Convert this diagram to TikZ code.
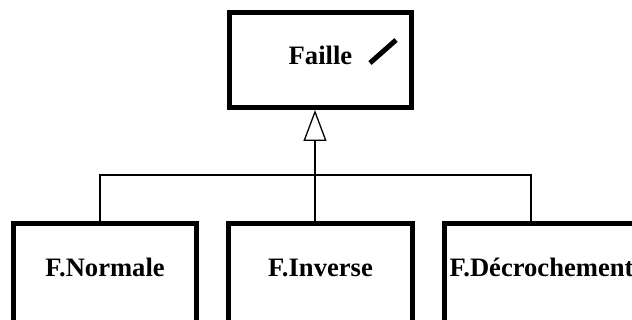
\documentclass[tikz,border=0pt]{standalone}
\usepackage{fontspec}
\setmainfont{Liberation Serif}
\usetikzlibrary{arrows.meta,calc,positioning}

\begin{document}
\begin{tikzpicture}[
  x=1pt, y=-1pt,
  box/.style={draw, line width=5pt, rectangle, inner xsep=0pt, inner ysep=0pt,
    font=\fontsize{26.6}{32}\selectfont\bfseries},
  parent/.style={box, minimum width=182pt, minimum height=95pt, text height=18pt, text depth=8pt},
  child/.style={box, anchor=north, text height=53.5pt, text depth=58pt},
  link/.style={line width=1.3pt},
  inherit/.style={link, -{Triangle[open, length=31pt, width=23pt, line width=1.3pt]}},
  slashline/.style={line width=5pt}
]
\useasboundingbox (0,0) rectangle (632,320);
\node[parent] (faille) at (320.5,60) {Faille};
\draw[slashline] ($(faille.center)+(49.5,3)$) -- ($(faille.center)+(75.5,-20)$);

\node[child, minimum width=183pt] (normale) at (105,221) {F.Normale};
\node[child, minimum width=184pt] (inverse) at (320.5,221) {F.Inverse};
\node[child, minimum width=194pt] (decro) at (541.5,221) {F.Décrochement};

% bus line
\coordinate (j1) at (100,175);
\coordinate (j2) at (315,175);
\coordinate (j3) at (531,175);
\draw[link] (j1 |- normale.north) -- (j1) -- (j3) -- (j3 |- decro.north);
\draw[link] (j2 |- inverse.north) -- (j2);
\draw[inherit] (j2) -- (j2 |- faille.south);
\end{tikzpicture}
\end{document}
